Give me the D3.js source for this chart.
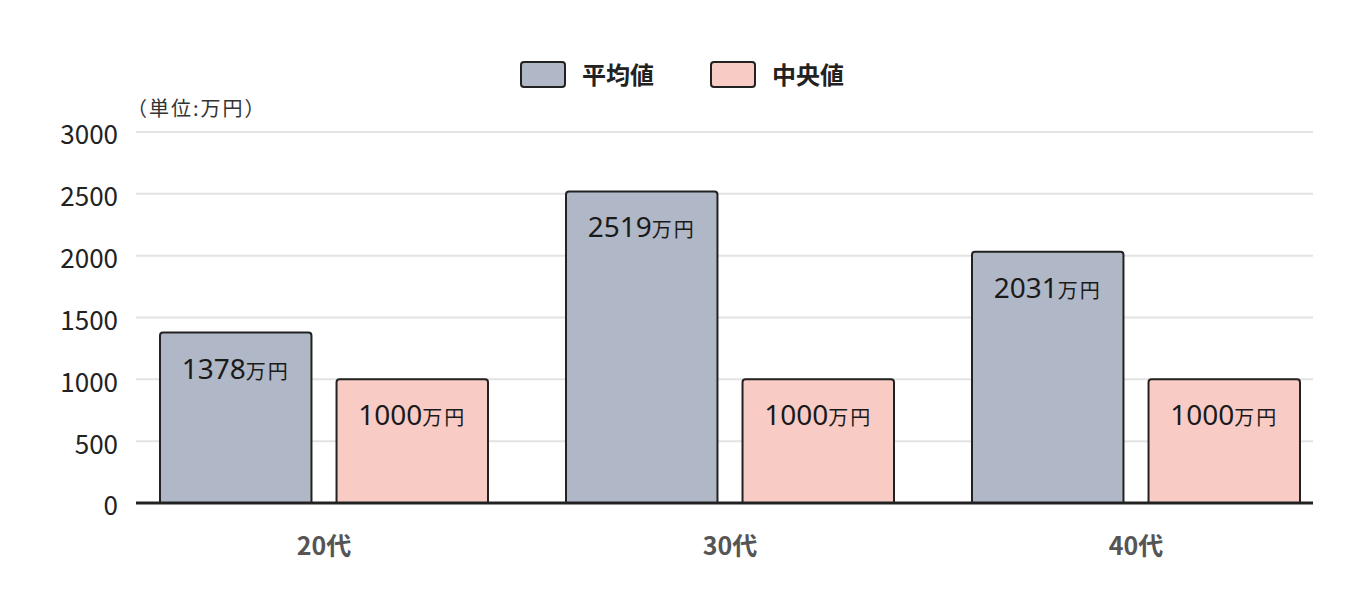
<!DOCTYPE html>
<html>
<head>
  <meta charset="utf-8">
  <title>平均値と中央値</title>
  <script src="https://cdn.jsdelivr.net/npm/d3@7.0.0/dist/d3.min.js"></script>
  <style>
    body { margin: 0; background: #fff; }
    svg text { font-family: "Noto Sans CJK JP", "Noto Sans", sans-serif; }
  </style>
</head>
<body>
  <div id="chart"></div>
  <script>
    // data
    var categories = ["20代", "30代", "40代"];
    var seriesNames = ["平均値", "中央値"];
    var meanValues = [1378, 2519, 2031];
    var medianValues = [1000, 1000, 1000];
    var yTicks = [0, 500, 1000, 1500, 2000, 2500, 3000];
    var colors = ["#b0b7c6", "#f9cbc5"];

    var W = 1370, H = 600;
    var plotLeft = 136, plotRight = 1313, plotTop = 132, plotBottom = 503;

    var svg = d3.select("#chart").append("svg")
      .attr("width", W)
      .attr("height", H);

    var y = d3.scaleLinear().domain([0, 3000]).range([plotBottom, plotTop]);

    // bands are a bit wider than the axis line, like the original
    var x = d3.scaleBand().domain(categories).range([121, 1339]).paddingInner(0).paddingOuter(0);
    var x1 = d3.scaleBand().domain(seriesNames).range([39, x.bandwidth() - 39]).paddingInner(0.142);

    // grid lines
    svg.append("g")
      .selectAll("line")
      .data(yTicks.filter(function(d) { return d > 0; }))
      .enter().append("line")
      .attr("x1", plotLeft).attr("x2", plotRight)
      .attr("y1", function(d) { return y(d); })
      .attr("y2", function(d) { return y(d); })
      .attr("stroke", "#e3e3e3")
      .attr("stroke-width", 2);

    // y axis labels
    svg.append("g")
      .selectAll("text")
      .data(yTicks)
      .enter().append("text")
      .attr("x", 118)
      .attr("y", function(d) { return y(d) + 3; })
      .attr("dy", "0.36em")
      .attr("text-anchor", "end")
      .attr("font-family", "'Noto Sans', sans-serif")
      .attr("font-size", 26)
      .attr("fill", "#222")
      .text(function(d) { return d; });

    // unit label
    svg.append("text")
      .attr("x", 127).attr("y", 116)
      .attr("font-size", 20)
      .attr("letter-spacing", 2)
      .attr("fill", "#333")
      .text("（単位:万円）");

    var rows = categories.map(function(c, i) {
      return { cat: c, vals: [meanValues[i], medianValues[i]] };
    });

    var groups = svg.append("g")
      .selectAll("g")
      .data(rows)
      .enter().append("g")
      .attr("transform", function(d) { return "translate(" + x(d.cat) + ",0)"; });

    var bars = groups.selectAll("g")
      .data(function(d) { return d.vals.map(function(v, j) { return { name: seriesNames[j], v: v, j: j }; }); })
      .enter().append("g");

    bars.append("path")
      .attr("d", function(d) {
        var x0 = x1(d.name), w = x1.bandwidth(), y0 = y(d.v), r = 3;
        return "M" + x0 + "," + plotBottom +
          "V" + (y0 + r) + "Q" + x0 + "," + y0 + " " + (x0 + r) + "," + y0 +
          "H" + (x0 + w - r) + "Q" + (x0 + w) + "," + y0 + " " + (x0 + w) + "," + (y0 + r) +
          "V" + plotBottom;
      })
      .attr("fill", function(d) { return colors[d.j]; })
      .attr("stroke", "#222")
      .attr("stroke-width", 2);

    var lbl = bars.append("text")
      .attr("x", function(d) { return x1(d.name) + x1.bandwidth() / 2; })
      .attr("y", function(d) { return y(d.v) + 46; })
      .attr("text-anchor", "middle")
      .attr("fill", "#1a1a1a");
    lbl.append("tspan").attr("font-family", "'Noto Sans', sans-serif").attr("font-size", 28).text(function(d) { return d.v; });
    lbl.append("tspan").attr("font-size", 20).attr("letter-spacing", 2).text("万円");

    // x axis line
    svg.append("line")
      .attr("x1", plotLeft).attr("x2", plotRight)
      .attr("y1", plotBottom).attr("y2", plotBottom)
      .attr("stroke", "#222")
      .attr("stroke-width", 3);

    // x labels
    svg.append("g")
      .selectAll("text")
      .data(categories)
      .enter().append("text")
      .attr("x", function(d) { return x(d) + x.bandwidth() / 2; })
      .attr("y", 555)
      .attr("text-anchor", "middle")
      .attr("font-size", 25)
      .attr("font-weight", "bold")
      .attr("fill", "#555")
      .text(function(d) { return d; });

    // legend
    var legendX = [521, 711];
    var legend = svg.append("g")
      .selectAll("g")
      .data(seriesNames)
      .enter().append("g")
      .attr("transform", function(d, i) { return "translate(" + legendX[i] + ",62)"; });
    legend.append("rect")
      .attr("width", 44).attr("height", 25)
      .attr("rx", 3)
      .attr("fill", function(d, i) { return colors[i]; })
      .attr("stroke", "#222")
      .attr("stroke-width", 2);
    legend.append("text")
      .attr("x", 61).attr("y", 22)
      .attr("font-size", 24)
      .attr("font-weight", "bold")
      .attr("fill", "#222")
      .text(function(d) { return d; });
  </script>
</body>
</html>
